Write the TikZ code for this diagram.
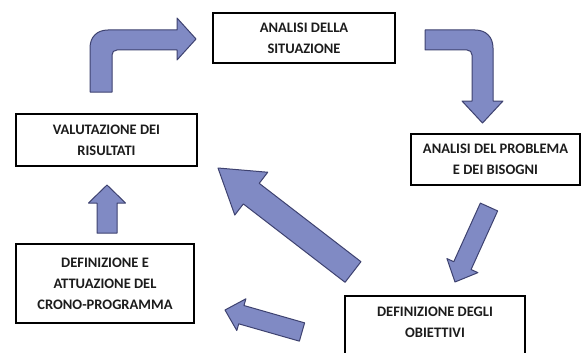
\documentclass[tikz,border=0pt]{standalone}
\usepackage{fontspec}
\setmainfont{Carlito}
\usetikzlibrary{calc}
\definecolor{arrfill}{RGB}{128,138,196}
\definecolor{arrline}{RGB}{62,66,112}
\definecolor{txt}{RGB}{28,28,28}
\tikzset{
  box/.style={draw=black, line width=1.8pt, fill=white, inner sep=0pt, align=center,
    text=txt, font=\bfseries\fontsize{14.5}{21}\selectfont},
  blockarr/.style={fill=arrfill, draw=arrline, line width=1pt, line join=round}
}
% straight block arrow: tail, tip, half shaft, half head, head length
\newcommand\blockarrow[5]{%
  \coordinate (hb) at ($(#2)!#5!(#1)$);
  \draw[blockarr] ($(#1)!#3!90:(#2)$) -- ($(hb)!#3!90:(#2)$) -- ($(hb)!#4!90:(#2)$) -- (#2)
     -- ($(hb)!#4!-90:(#2)$) -- ($(hb)!#3!-90:(#2)$) -- ($(#1)!#3!-90:(#2)$) -- cycle;}
\begin{document}
\begin{tikzpicture}[x=1pt,y=-1pt]
\useasboundingbox (0,0) rectangle (581,353);
\clip (0,0) rectangle (581,353);
\fill[white] (0,0) rectangle (581,353);

% boxes
\node[box, minimum width=182pt, minimum height=50pt] (sit) at (304,38) {ANALISI DELLA\\SITUAZIONE};
\node[box, minimum width=169pt, minimum height=51pt] (prob) at (495.5,159.5) {ANALISI DEL PROBLEMA\\E DEI BISOGNI};
\node[box, minimum width=181pt, minimum height=52pt] (val) at (106.5,140) {VALUTAZIONE DEI\\RISULTATI};
\node[box, minimum width=178pt, minimum height=79pt] (crono) at (105,283.5) {DEFINIZIONE E\\ATTUAZIONE DEL\\CRONO-PROGRAMMA};
\node[box, minimum width=180pt, minimum height=80pt, anchor=north] (obi) at (435,295) {};
\node[text=txt, font=\bfseries\fontsize{14.5}{21}\selectfont, align=center] (obit) at (435,322.5) {DEFINIZIONE DEGLI\\OBIETTIVI};

% bent arrow: valutazione -> situazione
\draw[blockarr] (90,92) -- (90,48) .. controls (90,37) and (97,30) .. (108,30) -- (177,30) -- (177,18)
  -- (196,39) -- (177,60) -- (177,50) -- (117,50) .. controls (114,50) and (112,52) .. (112,55)
  -- (112,92) -- cycle;

% bent arrow: situazione -> problema
\draw[blockarr] (425,30) -- (475,30) .. controls (486,30) and (493,37) .. (493,48) -- (493,101)
  -- (503,101) -- (482.5,123) -- (462,101) -- (472,101) -- (472,55) .. controls (472,52) and (470,50) .. (467,50)
  -- (425,50) -- cycle;

% straight arrows
\coordinate (t3) at (489,207); \coordinate (p3) at (455,282);
\blockarrow{t3}{p3}{9.5pt}{17pt}{18pt}
\coordinate (t4) at (353,272); \coordinate (p4) at (218,168);
\blockarrow{t4}{p4}{13pt}{27pt}{42pt}
\coordinate (t5) at (302,332); \coordinate (p5) at (225,310);
\blockarrow{t5}{p5}{9.5pt}{16.5pt}{17pt}
\coordinate (t6) at (107,233); \coordinate (p6) at (107,185);
\blockarrow{t6}{p6}{10pt}{18.5pt}{18pt}
\end{tikzpicture}
\end{document}
